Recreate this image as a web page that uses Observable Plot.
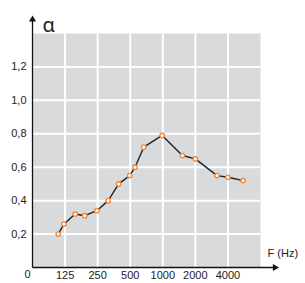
<!DOCTYPE html>
<html>
<head>
<meta charset="utf-8">
<script src="https://cdn.jsdelivr.net/npm/d3@7"></script>
<script src="https://cdn.jsdelivr.net/npm/@observablehq/plot@0.6"></script>
<style>
  html, body { margin: 0; padding: 0; background: #fff; }
  #chart svg { display: block; }
</style>
</head>
<body>
<div id="chart"></div>
<script>
const freqs = [108, 122, 155, 190, 246, 313, 391, 495, 554, 667, 987, 1520, 2000, 3170, 4000, 5530];
// Absorption coefficient α at each frequency
const alphas = [0.20, 0.26, 0.32, 0.31, 0.34, 0.40, 0.50, 0.55, 0.60, 0.72, 0.79, 0.67, 0.65, 0.55, 0.54, 0.52];
// Tick values
const xTicks = [125, 250, 500, 1000, 2000, 4000];
const yTicks = [0.2, 0.4, 0.6, 0.8, 1.0, 1.2];
// Axis ranges and arrow ends (data units)
const xDomain = [62.5, 8000];
const yDomain = [0, 1.4];
const xArrowEnd = 11100;
const yArrowEnd = 1.49;
// Labels
const yLabel = "α";
const xLabel = "F (Hz)";
const originLabel = "0";

const data = freqs.map((f, i) => ({f, a: alphas[i]}));
const fmtY = d => d.toFixed(1).replace(".", ",");

const chart = Plot.plot({
  width: 305,
  height: 283,
  marginLeft: 32,
  marginRight: 45,
  marginTop: 33,
  marginBottom: 16,
  style: {fontFamily: "'Liberation Sans Narrow', 'Arial Narrow', sans-serif", fontSize: "11px", color: "#222", background: "#fff"},
  x: {type: "log", base: 2, domain: xDomain, ticks: xTicks, tickFormat: d => String(d)},
  y: {domain: yDomain, ticks: yTicks, tickFormat: fmtY},
  marks: [
    Plot.frame({fill: "#d9dadb", stroke: null}),
    Plot.gridX(xTicks, {stroke: "#fff", strokeOpacity: 1, strokeWidth: 2}),
    Plot.gridY(yTicks, {stroke: "#fff", strokeOpacity: 1, strokeWidth: 2}),
    Plot.axisX(xTicks, {tickSize: 0, tickPadding: 4, tickFormat: d => String(d), label: null}),
    Plot.axisY(yTicks, {tickSize: 0, tickPadding: 6, tickFormat: fmtY, label: null}),
    // axis lines with arrows
    Plot.link([{x1: xDomain[0], y1: 0, x2: xArrowEnd, y2: 0}], {x1: "x1", y1: "y1", x2: "x2", y2: "y2", stroke: "#111", strokeWidth: 1.3}),
    Plot.link([{x1: xDomain[0], y1: 0, x2: xDomain[0], y2: yArrowEnd}], {x1: "x1", y1: "y1", x2: "x2", y2: "y2", stroke: "#111", strokeWidth: 1.3}),
    Plot.dot([{x: xArrowEnd, y: 0}], {x: "x", y: "y", symbol: "triangle", r: 2.6, fill: "#111", stroke: null, rotate: 90, dx: -1}),
    Plot.dot([{x: xDomain[0], y: yArrowEnd}], {x: "x", y: "y", symbol: "triangle", r: 2.6, fill: "#111", stroke: null, dy: 1}),
    // labels
    Plot.text([yLabel], {frameAnchor: "top-left", text: d => d, dx: 10, dy: -16, textAnchor: "start", fontSize: 20, fontFamily: "'Noto Sans', sans-serif", fill: "#222"}),
    Plot.text([xLabel], {frameAnchor: "bottom-right", text: d => d, dx: 7, dy: -11, textAnchor: "start", fill: "#222"}),
    Plot.text([originLabel], {frameAnchor: "bottom-left", text: d => d, dx: -8, dy: 10, fill: "#222"}),
    // data
    Plot.line(data, {x: "f", y: "a", stroke: "#222", strokeWidth: 1.4}),
    Plot.dot(data, {x: "f", y: "a", r: 2.2, fill: "#fff", stroke: "#f08636", strokeWidth: 1.3})
  ]
});
document.getElementById("chart").appendChild(chart);
</script>
</body>
</html>
